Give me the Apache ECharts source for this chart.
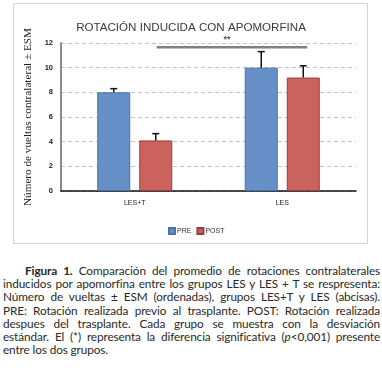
<!DOCTYPE html>
<html>
<head>
<meta charset="utf-8">
<script src="https://cdn.jsdelivr.net/npm/echarts@6/dist/echarts.min.js"></script>
<style>
    html, body { margin: 0; padding: 0; background: #fff; }
    #wrap { position: relative; width: 382px; height: 371px; overflow: hidden; }
    #chart { position: absolute; left: 0; top: 0; width: 382px; height: 250px; }
    .caption {
        position: absolute; left: 3px; top: 264px; width: 377px;
        font-family: Lato, "Open Sans", sans-serif; font-size: 11.8px; line-height: 13.2px;
        color: #2a2a2a; letter-spacing: -0.12px;
    }
    .caption div { text-align: justify; text-align-last: justify; white-space: nowrap; }
    .caption div.last { text-align-last: left; }
</style>
</head>
<body>
<div id="wrap">
    <div id="chart"></div>
    <div class="caption">
        <div style="padding-left:22px"><b>Figura 1.</b> Comparación del promedio de rotaciones contralaterales</div>
        <div>inducidos por apomorfina entre los grupos LES y LES + T se respresenta:</div>
        <div>Número de vueltas ± ESM (ordenadas), grupos LES+T y LES (abcisas).</div>
        <div>PRE: Rotación realizada previo al trasplante. POST: Rotación realizada</div>
        <div>despues del trasplante. Cada grupo se muestra con la desviación</div>
        <div>estándar. El (*) representa la diferencia significativa (<i>p</i>&lt;0,001) presente</div>
        <div class="last">entre los dos grupos.</div>
    </div>
</div>
<script>
    // datos
    const categories = ['LES+T', 'LES'];
    const preValues = [8.0, 10.0];
    const postValues = [4.1, 9.2];
    const preErr = [0.3, 1.3];
    const postErr = [0.55, 0.95];
    const yTicks = [0, 2, 4, 6, 8, 10, 12];
    const sigLevel = 11.65;

    const BAR_W = 33;
    const GAP = 9;
    const OFFSET = (BAR_W + GAP) / 2;

    function errData(vals, errs) {
        let out = [];
        for (let i in vals) {
            out.push([Number(i), vals[i], errs[i]]);
        }
        return out;
    }

    function errRender(offset) {
        return function (params, api) {
            let base = api.coord([api.value(0), api.value(1)]);
            let top = api.coord([api.value(0), api.value(1) + api.value(2)]);
            let x = base[0] + offset;
            let style = { stroke: '#111', lineWidth: 1.5 };
            return {
                type: 'group',
                children: [
                    { type: 'line', shape: { x1: x, y1: base[1], x2: x, y2: top[1] }, style: style },
                    { type: 'line', shape: { x1: x - 3.5, y1: top[1], x2: x + 3.5, y2: top[1] }, style: style }
                ]
            };
        };
    }

    let myChart = echarts.init(document.getElementById('chart'));
    myChart.setOption({
        animation: false,
        textStyle: { fontFamily: '"Liberation Sans", Arial, sans-serif' },
        graphic: [{
            type: 'rect',
            shape: { x: 13.5, y: 3.5, width: 354, height: 240 },
            style: { fill: 'none', stroke: '#d4d4d4', lineWidth: 1 },
            z: -1
        }],
        title: {
            text: 'ROTACIÓN INDUCIDA CON APOMORFINA',
            left: 'center',
            top: 17,
            textStyle: { fontSize: 11.6, fontWeight: 'normal', color: '#3a3a3a' }
        },
        legend: {
            data: ['PRE', 'POST'],
            left: 163,
            top: 222,
            itemWidth: 6,
            itemHeight: 6,
            itemGap: 5,
            icon: 'rect',
            textStyle: { fontSize: 7, color: '#333', padding: [0, 0, 0, -3] }
        },
        grid: { left: 61, right: 26, top: 43, bottom: 59 },
        xAxis: {
            type: 'category',
            data: categories,
            axisLine: { lineStyle: { color: '#111', width: 1.5 } },
            axisTick: { show: false },
            axisLabel: { fontSize: 7, color: '#222', margin: 9 }
        },
        yAxis: {
            type: 'value',
            min: yTicks[0],
            max: yTicks[yTicks.length - 1],
            interval: 2,
            name: 'Número de vueltas contralateral ± ESM',
            nameLocation: 'middle',
            nameGap: 7,
            nameTextStyle: { fontSize: 11.2, color: '#222', fontFamily: '"Liberation Serif", serif' },
            axisLine: { show: true, lineStyle: { color: '#8a8a8a', width: 2 } },
            axisTick: { show: false },
            axisLabel: { fontSize: 7.5, color: '#222', fontWeight: 'bold', margin: 8 },
            splitLine: { lineStyle: { color: '#c4c4c4', type: [4, 3], width: 1 } }
        },
        series: [
            {
                name: 'PRE',
                type: 'bar',
                data: preValues,
                barWidth: BAR_W,
                barGap: (GAP / BAR_W * 100).toFixed(1) + '%',
                itemStyle: { color: '#6790c8', borderColor: '#4a72a8', borderWidth: 1 }
            },
            {
                name: 'POST',
                type: 'bar',
                data: postValues,
                barWidth: BAR_W,
                itemStyle: { color: '#cc625d', borderColor: '#9a3e3b', borderWidth: 1 }
            },
            {
                type: 'custom',
                renderItem: errRender(-OFFSET),
                data: errData(preValues, preErr),
                z: 5,
                silent: true
            },
            {
                type: 'custom',
                renderItem: errRender(OFFSET),
                data: errData(postValues, postErr),
                z: 5,
                silent: true
            },
            {
                // linea de significancia entre grupos
                type: 'custom',
                data: [[0, sigLevel]],
                z: 5,
                silent: true,
                renderItem: function (params, api) {
                    let a = api.coord([0, api.value(1)]);
                    let b = api.coord([1, api.value(1)]);
                    let x1 = a[0] + OFFSET + 1;
                    let x2 = b[0] + OFFSET + 4;
                    return {
                        type: 'group',
                        children: [
                            { type: 'line', shape: { x1: x1, y1: a[1], x2: x2, y2: a[1] }, style: { stroke: '#808080', lineWidth: 2.5 } },
                            { type: 'text', style: { text: '**', x: (x1 + x2) / 2 - 5, y: a[1] - 3, align: 'center', verticalAlign: 'bottom', fontSize: 9, fontWeight: 'bold', fill: '#555' } }
                        ]
                    };
                }
            }
        ]
    });
</script>
</body>
</html>
